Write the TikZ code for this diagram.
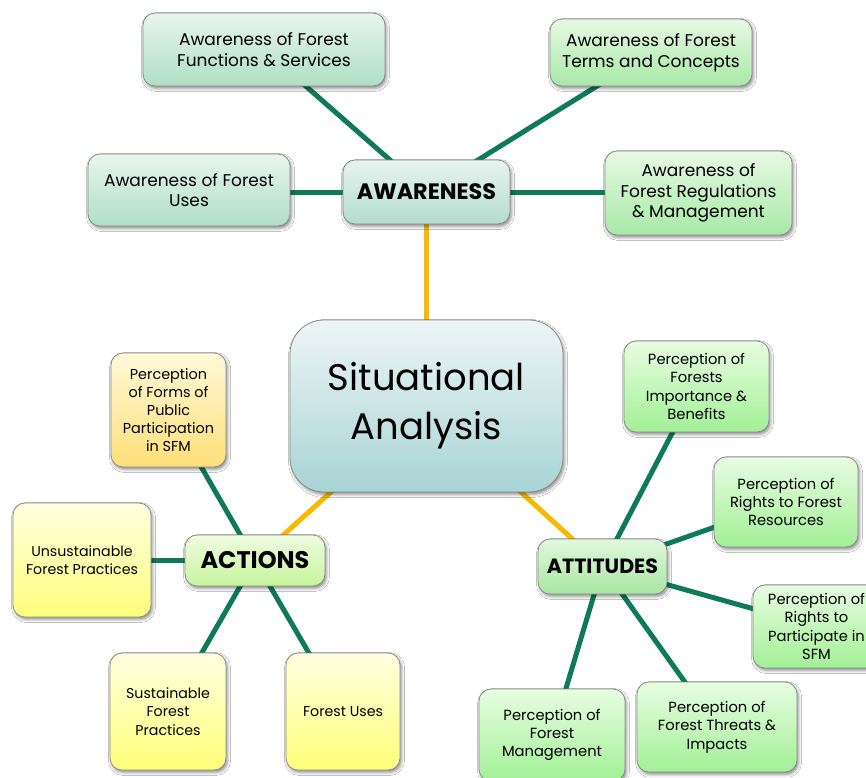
\documentclass[tikz,border=0pt]{standalone}
\usepackage{fontspec}
\setmainfont{Poppins}
\usetikzlibrary{shadows.blur,backgrounds}
\definecolor{lnk}{HTML}{0E7A5A}
\definecolor{gold}{HTML}{F7BA00}
\definecolor{edge}{HTML}{8A8A8A}
\tikzset{
  box/.style={draw=edge, line width=0.8pt, rounded corners=12pt, align=center,
    inner sep=2pt, blur shadow={shadow xshift=1.5pt, shadow yshift=-2.5pt, shadow blur radius=3pt, shadow opacity=45},
    font=\fontsize{17}{20.5}\selectfont},
  mint/.style={box, top color=mintT, bottom color=mintB},
  lgreen/.style={box, top color=lgT, bottom color=lgB},
  agreen/.style={box, top color=agT, bottom color=agB, font=\fontsize{14.7}{18.3}\selectfont},
  yel/.style={box, top color=yT, bottom color=yB, font=\fontsize{14.2}{18.3}\selectfont},
  orn/.style={box, top color=oT, bottom color=oB, font=\fontsize{14.4}{18}\selectfont},
  hub/.style={box, font=\bfseries\fontsize{22.3}{24}\selectfont},
  gl/.style={lnk, line width=5pt},
  yl/.style={gold, line width=5pt},
}
\definecolor{mintT}{HTML}{E8F6EE}
\definecolor{mintB}{HTML}{B0DEC4}
\definecolor{lgT}{HTML}{E8F9E4}
\definecolor{lgB}{HTML}{A8E9A8}
\definecolor{agT}{HTML}{E8FDE2}
\definecolor{agB}{HTML}{A2F096}
\definecolor{yT}{HTML}{FFFFE2}
\definecolor{yB}{HTML}{FFFF7A}
\definecolor{oT}{HTML}{FFF9DA}
\definecolor{oB}{HTML}{FFDF78}
\definecolor{awT}{HTML}{E8F4F0}
\definecolor{awB}{HTML}{B2DCCE}
\definecolor{cT}{HTML}{EEF5F6}
\definecolor{cB}{HTML}{A8D4D5}
\definecolor{acT}{HTML}{F0FCE2}
\definecolor{acB}{HTML}{C6F49A}
\definecolor{atT}{HTML}{E2F8DE}
\definecolor{atB}{HTML}{A8E6A2}
\begin{document}
\begin{tikzpicture}[x=1pt,y=-1pt]
\useasboundingbox (0,0) rectangle (866,777);
% awareness group
\node[mint, minimum width=242pt, minimum height=73pt] (fun) at (264,49.5) {Awareness of Forest\\Functions \& Services};
\node[lgreen, minimum width=202pt, minimum height=67pt] (terms) at (651,52.5) {Awareness of Forest\\Terms and Concepts};
\node[mint, minimum width=202pt, minimum height=72pt] (uses) at (189,190) {Awareness of Forest\\Uses};
\node[lgreen, minimum width=187pt, minimum height=84pt] (regs) at (698.5,193) {Awareness of\\Forest Regulations\\\& Management};
\node[hub, top color=awT, bottom color=awB, minimum width=167pt, minimum height=64pt] (aware) at (426.5,192) {AWARENESS};
% center
\node[box, rounded corners=34pt, top color=cT, bottom color=cB, minimum width=273pt, minimum height=172pt,
  font=\fontsize{37}{49}\selectfont] (sit) at (426.5,406) {Situational\\Analysis};
% actions group
\node[orn, minimum width=115pt, minimum height=114pt] (forms) at (168.5,410) {Perception\\of Forms of\\Public\\Participation\\in SFM};
\node[yel, minimum width=138pt, minimum height=114pt] (unsus) at (82,560) {Unsustainable\\Forest Practices};
\node[yel, minimum width=116pt, minimum height=117pt] (sus) at (168,711.5) {Sustainable\\Forest\\Practices};
\node[yel, minimum width=114pt, minimum height=117pt] (fuses) at (343,711.5) {Forest Uses};
\node[hub, top color=acT, bottom color=acB, minimum width=140pt, minimum height=51pt, font=\bfseries\fontsize{24}{26}\selectfont] (actions) at (255,560.5) {ACTIONS};
% attitudes group
\node[agreen, minimum width=145pt, minimum height=91pt] (imp) at (696.5,386.5) {Perception of\\Forests\\Importance \&\\Benefits};
\node[agreen, minimum width=144pt, minimum height=90pt] (rres) at (786,502) {Perception of\\Rights to Forest\\Resources};
\node[agreen, minimum width=127pt, minimum height=83pt] (rpart) at (816.5,626.5) {Perception of\\Rights to\\Participate in\\SFM};
\node[agreen, minimum width=160pt, minimum height=90pt] (threats) at (717,727) {Perception of\\Forest Threats \&\\Impacts};
\node[agreen, minimum width=146pt, minimum height=92pt] (mgmt) at (552,735) {Perception of\\Forest\\Management};
\node[hub, top color=atT, bottom color=atB, minimum width=129pt, minimum height=55pt, font=\bfseries\fontsize{20.6}{24}\selectfont] (att) at (602.5,566.5) {ATTITUDES};
\begin{scope}[on background layer]
\fill[white] (0,0) rectangle (866,777);
\draw[gl] (aware.center) -- (fun.center);
\draw[gl] (aware.center) -- (terms.center);
\draw[gl] (aware.center) -- (aware.center -| uses.center);
\draw[gl] (aware.center) -- (aware.center -| regs.center);
\draw[yl] (aware.center) -- (sit.center);
\draw[yl] (sit.center) -- (actions.center);
\draw[yl] (sit.center) -- (att.center);
\draw[gl] (actions.center) -- (forms.center);
\draw[gl] (actions.center) -- (actions.center -| unsus.center);
\draw[gl] (actions.center) -- (sus.center);
\draw[gl] (actions.center) -- (fuses.center);
\draw[gl] (att.center) -- (imp.center);
\draw[gl] (att.center) -- (rres.center);
\draw[gl] (att.center) -- (rpart.center);
\draw[gl] (att.center) -- (threats.center);
\draw[gl] (att.center) -- (mgmt.center);
\end{scope}
\end{tikzpicture}
\end{document}
